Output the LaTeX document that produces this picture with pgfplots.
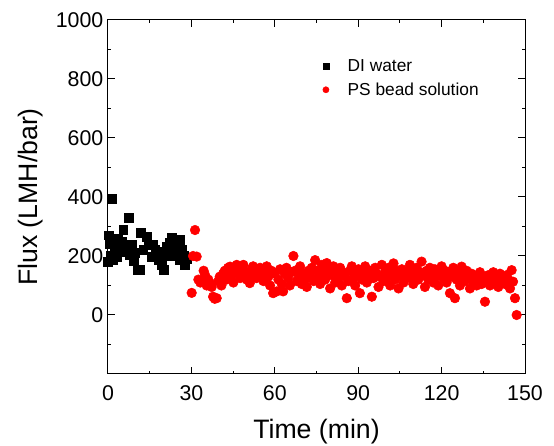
\documentclass[border=0pt]{standalone}
\usepackage{pgfplots}
\pgfplotsset{compat=1.18}
\usepackage{fontspec}
\setmainfont{Liberation Sans}

\pgfplotstableread{
t v
0.0 180
0.3 270
0.6 240
1.0 200
1.3 393
1.8 244
1.8 186
2.4 210
3.1 198
3.5 260
4.3 231
5.0 250
5.5 288
6.2 215
7.0 230
7.6 330
7.9 203
8.5 237
9.2 185
9.7 210
10.5 153
11.5 153
11.8 278
12.7 220
13.9 265
14.5 240
15.7 198
16.2 237
17.0 220
18.1 186
19.3 215
19.3 170
20.0 153
21.0 231
21.5 200
22.3 244
22.9 261
23.5 200
24.1 210
24.8 230
25.9 254
25.9 186
26.5 220
27.2 200
27.7 170
28.3 190
}\diwater

\pgfplotstableread{
t v
30.1 75
30.6 200
31.3 288
31.9 198
32.5 120
33.2 110
33.7 113
34.4 150
34.9 136
35.5 100
36.1 120
36.7 108
37.3 95
37.8 62
38.4 55
39.1 57
39.7 115
40.2 130
40.8 100
41.4 140
42.0 150
42.6 120
43.2 160
43.9 164
44.5 135
45.1 110
45.7 150
46.3 170
46.9 140
47.5 125
48.1 155
48.7 170
49.3 145
49.9 120
50.5 130
51.0 108
51.6 155
52.2 165
52.8 140
53.4 125
54.0 150
54.7 160
55.3 135
55.9 115
56.5 145
57.1 165
57.7 130
58.3 100
58.8 150
59.4 74
60.0 140
60.7 80
61.3 120
61.9 155
62.5 105
63.0 80
63.6 140
64.2 160
64.8 125
65.4 100
66.0 145
66.7 200
67.3 150
67.9 115
68.5 135
69.1 165
69.7 105
70.3 140
70.9 120
71.5 95
72.1 150
72.7 130
73.3 160
73.9 115
74.5 186
75.0 150
75.7 130
76.3 105
76.9 170
77.5 145
78.1 120
78.7 176
79.3 150
79.9 90
80.5 135
81.1 165
81.7 110
82.3 140
82.9 125
83.5 160
84.1 100
84.7 145
85.3 130
85.9 57
86.5 115
87.1 150
87.7 165
88.3 125
88.9 100
89.5 140
90.1 155
90.6 74
91.3 120
91.9 145
92.5 165
93.1 110
93.7 130
94.3 150
94.9 62
95.5 125
96.1 160
96.7 140
97.3 95
97.9 130
98.5 170
99.1 115
99.7 145
100.3 125
100.9 160
101.5 100
102.1 140
102.7 175
103.3 120
103.9 150
104.5 90
105.1 135
105.7 155
106.3 110
106.9 145
107.5 125
108.0 150
108.6 170
109.2 130
109.8 105
110.4 140
111.0 160
111.6 120
112.2 145
112.8 181
113.4 135
114.0 95
114.6 150
115.2 120
115.8 160
116.4 140
117.0 110
117.6 155
118.2 130
118.8 100
119.4 145
120.0 165
120.6 125
121.2 150
121.8 110
122.4 140
123.0 74
123.6 130
124.2 160
124.8 57
125.4 120
126.0 145
126.6 100
127.2 164
127.8 135
128.4 115
129.0 150
129.6 125
130.2 90
130.8 140
131.4 110
132.0 130
132.6 100
133.2 120
133.8 145
134.4 105
135.0 125
135.6 45
136.2 110
136.8 135
137.4 100
138.0 120
138.6 145
139.2 110
139.8 130
140.4 95
141.0 140
141.6 115
142.2 125
142.8 105
143.4 135
144.0 120
144.6 90
145.2 152
145.7 113
146.4 57
147.0 0
}\psbead

\begin{document}
\begin{tikzpicture}
\begin{axis}[
  name=ax,
  scale only axis,
  width=312.75pt, height=265.5pt,
  xmin=0, xmax=150, ymin=-200, ymax=1000,
  xtick={0,30,...,150},
  ytick={0,200,...,1000},
  minor xtick={15,45,...,135},
  minor ytick={-100,100,...,900},
  tick align=inside,
  major tick length=5pt,
  minor tick length=2.5pt,
  tick style={black, line width=0.75pt},
  axis line style={line width=0.75pt},
  /pgf/number format/assume math mode=true,
  /pgf/number format/1000 sep={},
  ticklabel style={font=\fontsize{16}{18}\selectfont},
  xticklabel style={yshift=-5pt},
  xlabel={Time (min)},
  ylabel={Flux (LMH/bar)},
  label style={font=\fontsize{20}{22}\selectfont},
  xlabel style={yshift=-7pt},
  ylabel style={yshift=3pt},
  legend style={at={(0.505,0.905)}, anchor=north west, draw=none, fill=none,
    font=\fontsize{13}{15}\selectfont, row sep=3pt,
    /tikz/every odd column/.append style={column sep=12pt}},
  legend image post style={mark size=2.3pt},
  legend cell align=left,
]
\addplot[only marks, mark=square*, mark size=3.3pt, draw=black, fill=black] table[x=t,y=v] {\diwater};
\addplot[only marks, mark=*, mark size=3.6pt, draw=red, fill=red] table[x=t,y=v] {\psbead};
\legend{DI water, PS bead solution}
\end{axis}
\pgfresetboundingbox
\path[use as bounding box] ([shift={(-81pt,-54pt)}]ax.south west) rectangle ([shift={(21.75pt,15pt)}]ax.north east);
\end{tikzpicture}
\end{document}
